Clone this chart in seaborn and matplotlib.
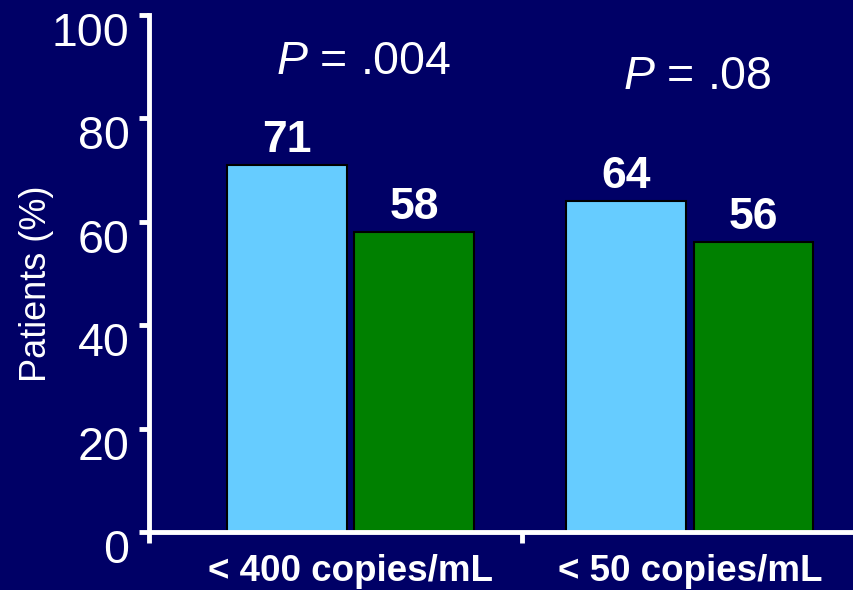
import matplotlib
matplotlib.use("Agg")
import matplotlib.pyplot as plt
import matplotlib.transforms as mtransforms
import seaborn as sns
import pandas as pd

# Data
categories = ["< 400 copies/mL", "< 50 copies/mL"]
groups = ["Arm 1", "Arm 2"]
arm1_values = [71, 64]
arm2_values = [58, 56]
p_labels = [".004", ".08"]
y_ticks = [0, 20, 40, 60, 80, 100]

BG = "#000066"
COLORS = ["#66CCFF", "#008000"]

df = pd.DataFrame({
    "category": categories * 2,
    "group": [groups[0]] * len(categories) + [groups[1]] * len(categories),
    "value": arm1_values + arm2_values,
})

sns.set_style("white")
plt.rcParams["font.family"] = ["Liberation Sans", "DejaVu Sans"]
plt.rcParams["mathtext.fontset"] = "custom"
plt.rcParams["mathtext.rm"] = "Liberation Sans"
plt.rcParams["mathtext.it"] = "Liberation Sans:italic"

fig = plt.figure(figsize=(8.54, 5.90), dpi=100, facecolor=BG)
ax = fig.add_axes([0.1745, 0.0983, 0.8255, 0.8763])
ax.set_facecolor(BG)

sns.barplot(data=df, x="category", y="value", hue="group", hue_order=groups,
            order=categories, palette=COLORS, width=0.75, gap=0.06,
            edgecolor="black", linewidth=1.5, legend=False, ax=ax,
            saturation=1)

for cont in ax.containers:
    ax.bar_label(cont, fmt="%d", padding=3, fontsize=32, fontweight="bold",
                 color="white")

# P-value annotations above each category
p_pos = [(0.039, 90.9), (1.022, 88.0)]
for (x, y), p in zip(p_pos, p_labels):
    ax.text(x, y, f"$P$ = {p}", ha="center", va="center", fontsize=33.5,
            color="white")

ax.set_ylim(0, 100)
ax.set_xlim(-0.5934, 1.484)
ax.set_yticks(y_ticks)
ax.tick_params(axis="y", colors="white", labelsize=33.5, length=7, width=3.5,
               direction="out", pad=7, left=True)

# y tick labels sit a little below their tick marks
shift = mtransforms.ScaledTranslation(0, -0.14, fig.dpi_scale_trans)
for lab in ax.get_yticklabels():
    lab.set_transform(lab.get_transform() + shift)

# category labels without tick marks; boundary ticks as minor ticks
ax.set_xticks(range(len(categories)))
ax.set_xticklabels(categories, fontsize=26.5, fontweight="bold", color="white")
ax.tick_params(axis="x", which="major", length=0, pad=16)
ax.set_xticks([-0.5934, 0.506], minor=True)
ax.tick_params(axis="x", which="minor", length=8, width=3.5, color="white",
               direction="out", bottom=True)

ax.set_xlabel("")
ax.set_ylabel("Patients (%)", fontsize=26, color="white")
ax.yaxis.set_label_coords(-0.135, 0.48)

for side in ["top", "right"]:
    ax.spines[side].set_visible(False)
for side in ["left", "bottom"]:
    ax.spines[side].set_color("white")
    ax.spines[side].set_linewidth(3.5)

fig.savefig("out.png", dpi=100, facecolor=BG)
